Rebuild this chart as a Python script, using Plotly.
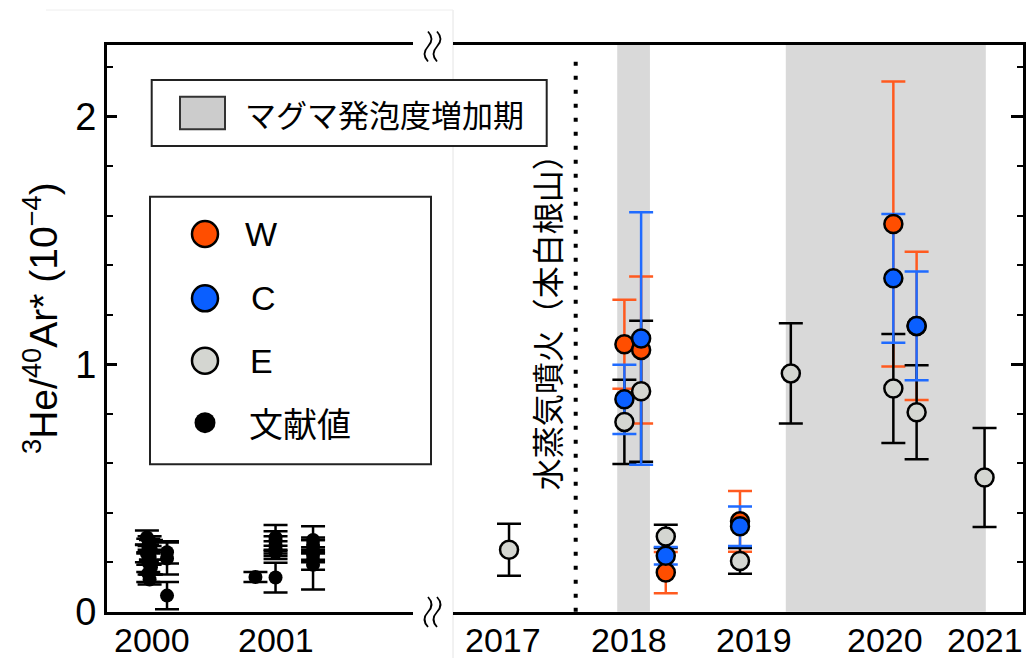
import numpy as np
import plotly.graph_objects as go

W_PX, H_PX = 1027, 658

# ---------------- data ----------------
# literature values (2000-2001)
lit_x = [2000.53, 2000.55, 2000.54, 2000.56, 2000.53, 2000.55, 2000.54, 2000.56, 2000.54, 2000.55,
         2000.68, 2000.68, 2000.68,
         2001.34,
         2001.49, 2001.49, 2001.49, 2001.49, 2001.49, 2001.49,
         2001.77, 2001.77, 2001.77, 2001.77, 2001.77, 2001.77]
lit_y = [0.30, 0.285, 0.265, 0.25, 0.235, 0.22, 0.20, 0.18, 0.155, 0.13,
         0.24, 0.215, 0.065,
         0.14,
         0.30, 0.285, 0.27, 0.255, 0.24, 0.138,
         0.29, 0.27, 0.25, 0.23, 0.21, 0.19]
lit_err = [0.028, 0.02, 0.03, 0.04, 0.035, 0.03, 0.04, 0.03, 0.035, 0.02,
           0.045, 0.065, 0.055,
           0.02,
           0.05, 0.04, 0.035, 0.03, 0.027, 0.06,
           0.055, 0.03, 0.04, 0.03, 0.04, 0.10]

# W, C, E (2017-2021)
w_x = [2018.467, 2018.60, 2018.796, 2019.386, 2020.605, 2020.79]
w_y = [1.081, 1.058, 0.158, 0.365, 1.567, 1.155]
w_err = [0.18, 0.297, 0.083, 0.123, 0.576, 0.30]

c_x = [2018.467, 2018.60, 2018.796, 2019.386, 2020.605, 2020.79]
c_y = [0.858, 1.104, 0.226, 0.345, 1.347, 1.155]
c_err = [0.14, 0.51, 0.035, 0.08, 0.26, 0.22]

e_x = [2017.55, 2018.467, 2018.60, 2018.796, 2019.386, 2019.79, 2020.605, 2020.79, 2021.33]
e_y = [0.25, 0.767, 0.891, 0.304, 0.205, 0.963, 0.902, 0.806, 0.542]
e_err = [0.105, 0.17, 0.285, 0.047, 0.052, 0.203, 0.22, 0.19, 0.20]

# periods of increased magma vesiculation
bubble_start = [2018.41, 2019.75]
bubble_end = [2018.67, 2021.34]
eruption_year = 2018.08

left_range = [2000.232, 2002.516]
right_range = [2017.107, 2021.638]
y_range = [0, 2.29]

left_year_labels = ["2000", "2001"]
left_label_pos = [2000.57, 2001.49]
left_major = [2001, 2002]
right_year_labels = ["2017", "2018", "2019", "2020", "2021"]
right_label_pos = [2017.5, 2018.5, 2019.5, 2020.54, 2021.33]
right_major = [2018, 2019, 2020, 2021]

y_major = [0, 1, 2]
y_minor = [0.2, 0.4, 0.6, 0.8, 1.2, 1.4, 1.6, 1.8, 2.2]

left_minor = [2000 + k / 6 for k in range(2, 16)]
right_minor = [2017 + k / 6 for k in range(1, 28)]

W_FILL, W_ERR = "#FF4E00", "#FF5A1F"
C_FILL, C_ERR = "#0A5FFF", "#1F6BFF"
E_FILL, E_ERR = "#D4D6D1", "#000000"

FONT_EN = "Liberation Sans, Arial, sans-serif"
FONT_JA = "Noto Sans CJK JP, sans-serif"


def px(x):
    return x / W_PX


def py(y):
    return 1 - y / H_PX


fig = go.Figure()

# ---- literature values (left panel) ----
fig.add_trace(go.Scatter(
    x=lit_x, y=lit_y, mode="markers", xaxis="x", yaxis="y", showlegend=False, name="文献値",
    marker=dict(size=14, color="black"),
    error_y=dict(type="data", array=lit_err, color="black", thickness=2.5, width=12),
))

# ---- error bars (right panel) under all markers ----
for xs, ys, es, ec in [(w_x, w_y, w_err, W_ERR), (e_x, e_y, e_err, E_ERR), (c_x, c_y, c_err, C_ERR)]:
    fig.add_trace(go.Scatter(
        x=xs, y=ys, mode="markers", xaxis="x2", yaxis="y2", showlegend=False,
        marker=dict(size=1, color="rgba(0,0,0,0)"),
        error_y=dict(type="data", array=es, color=ec, thickness=2.5, width=12),
        hoverinfo="skip",
    ))

for xs, ys, fc, name in [(w_x, w_y, W_FILL, "W"), (e_x, e_y, E_FILL, "E"), (c_x, c_y, C_FILL, "C")]:
    fig.add_trace(go.Scatter(
        x=xs, y=ys, mode="markers", xaxis="x2", yaxis="y2", showlegend=False, name=name,
        marker=dict(size=18, color=fc, line=dict(color="black", width=2.5)),
    ))

xL = [px(107), px(413)]
xR = [px(453.3), px(1023.3)]
yD = [py(611.7), py(45)]

LW = 2.8
common_x = dict(showgrid=False, zeroline=False, automargin=False, fixedrange=True)

layout = dict(
    width=W_PX, height=H_PX, autosize=False,
    margin=dict(l=0, r=0, t=0, b=0),
    paper_bgcolor="white", plot_bgcolor="rgba(0,0,0,0)",
    showlegend=False,
    xaxis=dict(domain=xL, range=left_range, anchor="y", showline=True, linecolor="black",
               linewidth=LW, mirror=True, ticks="", showticklabels=False, **common_x),
    xaxis3=dict(overlaying="x", anchor="y", range=left_range, showline=True, linecolor="black",
                linewidth=LW, mirror="ticks", ticks="inside", ticklen=7, tickwidth=2, tickcolor="black",
                tickvals=left_minor, showticklabels=False, **common_x),
    xaxis4=dict(overlaying="x", anchor="y", range=left_range, showline=False,
                ticks="inside", ticklen=13, tickwidth=2.5, tickcolor="black",
                tickvals=left_major, showticklabels=False, **common_x),
    xaxis5=dict(overlaying="x", anchor="y", range=left_range, showline=False,
                ticks="outside", ticklen=11, tickwidth=2.5, tickcolor="black",
                tickvals=left_major, showticklabels=False, **common_x),
    xaxis2=dict(domain=xR, range=right_range, anchor="y2", showline=True, linecolor="black",
                linewidth=LW, mirror=True, ticks="", showticklabels=False, **common_x),
    xaxis6=dict(overlaying="x2", anchor="y2", range=right_range, showline=True, linecolor="black",
                linewidth=LW, mirror="ticks", ticks="inside", ticklen=7, tickwidth=2, tickcolor="black",
                tickvals=right_minor, showticklabels=False, **common_x),
    xaxis7=dict(overlaying="x2", anchor="y2", range=right_range, showline=False,
                ticks="inside", ticklen=13, tickwidth=2.5, tickcolor="black",
                tickvals=right_major, showticklabels=False, **common_x),
    xaxis8=dict(overlaying="x2", anchor="y2", range=right_range, showline=False,
                ticks="outside", ticklen=11, tickwidth=2.5, tickcolor="black",
                tickvals=right_major, showticklabels=False, **common_x),
    yaxis=dict(domain=yD, range=y_range, anchor="x", side="left", showline=True, linecolor="black",
               linewidth=LW, ticks="inside", ticklen=10, tickwidth=2.5, tickcolor="black",
               tickvals=y_major, ticktext=[str(v) for v in y_major],
               tickfont=dict(family=FONT_EN, size=38, color="black"),
               minor=dict(tickvals=y_minor, ticks="inside", ticklen=6, tickwidth=2, tickcolor="black"),
               **common_x),
    yaxis2=dict(domain=yD, range=y_range, anchor="x2", side="right", showline=True, linecolor="black",
                linewidth=LW, ticks="inside", ticklen=12, tickwidth=2.5, tickcolor="black",
                tickvals=y_major, showticklabels=False,
                minor=dict(tickvals=y_minor, ticks="inside", ticklen=6, tickwidth=2, tickcolor="black"),
                **common_x),
)
fig.update_layout(**layout)

shapes = []
# shaded periods
for s, e in zip(bubble_start, bubble_end):
    shapes.append(dict(type="rect", xref="x2", yref="y2 domain", x0=s, x1=e, y0=0, y1=1,
                       fillcolor="#D9D9D9", line=dict(width=0), layer="below"))
# eruption dotted line
shapes.append(dict(type="line", xref="x2", yref="y2 domain", x0=eruption_year, x1=eruption_year,
                   y0=0, y1=0.985, line=dict(color="black", width=4, dash="4px,10px"), layer="above"))

# faint frame lines of the source image
shapes.append(dict(type="line", xref="paper", yref="paper", x0=px(453), x1=px(453), y0=py(10), y1=0,
                   line=dict(color="#E4E4E4", width=1), layer="below"))
shapes.append(dict(type="line", xref="paper", yref="paper", x0=px(46), x1=px(453), y0=py(10), y1=py(10),
                   line=dict(color="#EEEEEE", width=1), layer="below"))


# axis break marks
def wave_path(cx, cy, h=30, a=7):
    t, b = cy - h / 2, cy + h / 2
    pts = [(cx, t), (cx + a, cy - h / 4), (cx, cy), (cx - a, cy + h / 4), (cx, b)]
    p = [(px(x), py(y)) for x, y in pts]
    return (f"M {p[0][0]},{p[0][1]} Q {p[1][0]},{p[1][1]} {p[2][0]},{p[2][1]} "
            f"Q {p[3][0]},{p[3][1]} {p[4][0]},{p[4][1]}")


for cy in (46.5, 612):
    for cx in (428, 437):
        shapes.append(dict(type="path", xref="paper", yref="paper", path=wave_path(cx, cy),
                           line=dict(color="black", width=1.8)))

# legend 1
shapes.append(dict(type="rect", xref="paper", yref="paper", x0=px(151.7), x1=px(546.7),
                   y0=py(146), y1=py(80), line=dict(color="#222", width=2), fillcolor="white"))
shapes.append(dict(type="rect", xref="paper", yref="paper", x0=px(180), x1=px(225),
                   y0=py(129.3), y1=py(96.7), line=dict(color="#333", width=2), fillcolor="#CCCCCC"))
# legend 2
shapes.append(dict(type="rect", xref="paper", yref="paper", x0=px(150), x1=px(431),
                   y0=py(464.3), y1=py(196.7), line=dict(color="#222", width=2), fillcolor="white"))
legend_rows = [("W", W_FILL, 234, 26, 243), ("C", C_FILL, 298.3, 26, 249),
               ("E", E_FILL, 360.7, 26, 248), ("文献値", "black", 422.7, 21, 247)]
for label, col, cy, d, tx in legend_rows:
    shapes.append(dict(type="circle", xref="paper", yref="paper",
                       x0=px(205 - d / 2), x1=px(205 + d / 2), y0=py(cy + d / 2), y1=py(cy - d / 2),
                       fillcolor=col, line=dict(color="black", width=2.5 if col != "black" else 0)))

fig.update_layout(shapes=shapes)

annotations = []
# x tick labels (placed at mid-year)
for xr, pos, labels in [("x", left_label_pos, left_year_labels), ("x2", right_label_pos, right_year_labels)]:
    for p, t in zip(pos, labels):
        annotations.append(dict(xref=xr, yref="paper", x=p, y=py(640), xanchor="center", yanchor="middle",
                                text=t, showarrow=False,
                                font=dict(family=FONT_EN, size=34, color="black")))

annotations.append(dict(xref="paper", yref="paper", x=px(243), y=py(113), xanchor="left", yanchor="middle",
                        text="マグマ発泡度増加期", showarrow=False,
                        font=dict(family=FONT_JA, size=31, color="black")))
for label, col, cy, d, tx in legend_rows:
    fam = FONT_JA if label == "文献値" else FONT_EN
    annotations.append(dict(xref="paper", yref="paper", x=px(tx), y=py(cy), xanchor="left", yanchor="middle",
                            text=label, showarrow=False, font=dict(family=fam, size=34, color="black")))
# vertical label for eruption
annotations.append(dict(xref="x2", yref="y2", x=2017.84, y=1.20, text="水蒸気噴火（本白根山）",
                        textangle=-90, showarrow=False, xanchor="center", yanchor="middle",
                        font=dict(family=FONT_JA, size=32, color="black")))
# y-axis title
annotations.append(dict(xref="paper", yref="paper", x=px(40), y=py(318), xanchor="center", yanchor="middle",
                        text="<sup>3</sup>He/<sup>40</sup>Ar* (10<sup>−4</sup>)", textangle=-90,
                        showarrow=False, font=dict(family=FONT_EN, size=39, color="black")))
fig.update_layout(annotations=annotations)

fig.write_html("out.html")
